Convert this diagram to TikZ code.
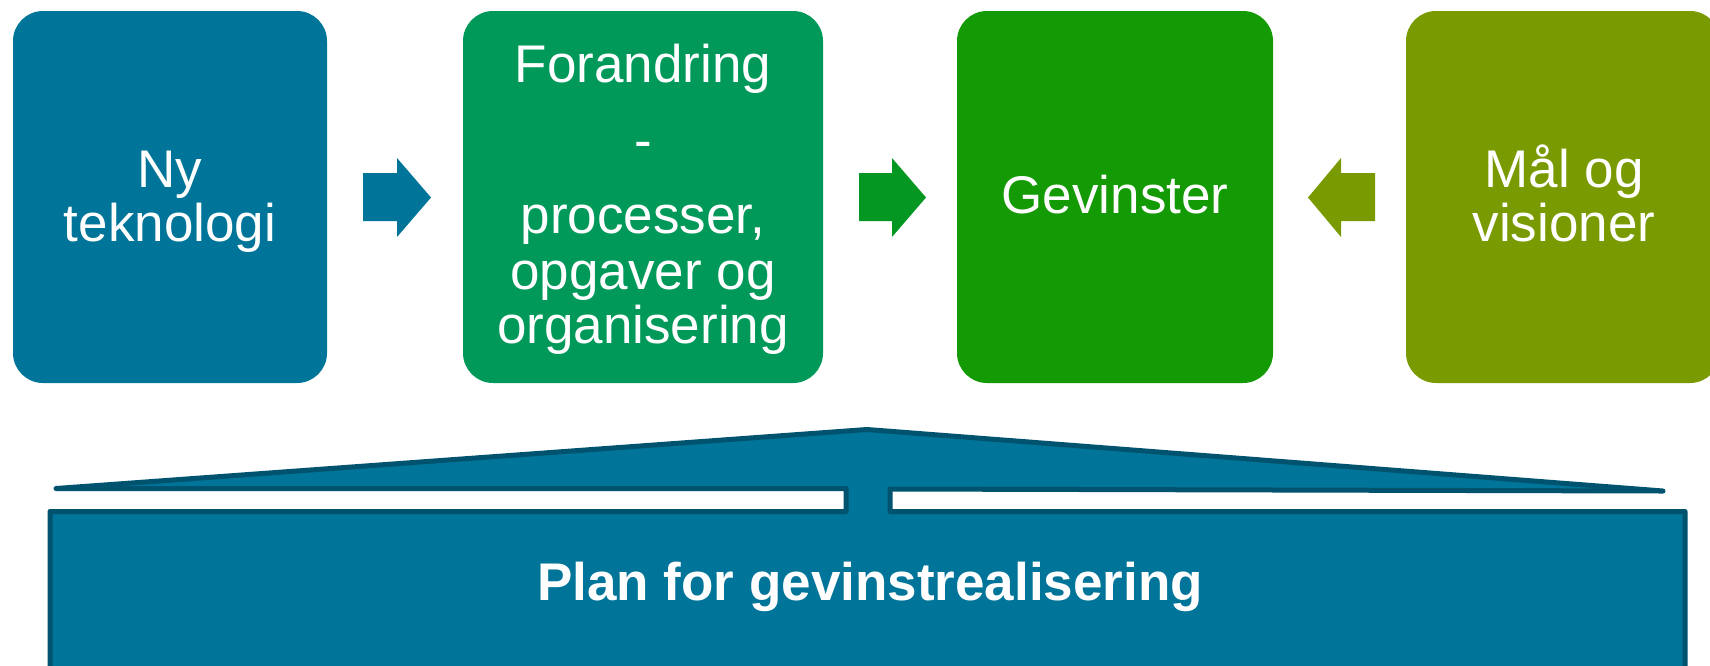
\documentclass[tikz,border=0pt]{standalone}
\usepackage{fontspec}
\setmainfont{Liberation Sans}
\definecolor{cA}{RGB}{0,117,153}
\definecolor{cB}{RGB}{0,153,89}
\definecolor{cC}{RGB}{19,154,4}
\definecolor{cD}{RGB}{122,154,1}
\definecolor{cArrB}{RGB}{4,152,35}
\definecolor{planfill}{RGB}{0,116,153}
\definecolor{planedge}{RGB}{0,83,110}
\begin{document}
\begin{tikzpicture}[x=1pt,y=-1pt,
  boxnode/.style={rounded corners=30pt, minimum width=314pt, minimum height=372pt, inner sep=0pt, draw=none},
  lbl/.style={text=white, font=\fontsize{53}{54}\selectfont, inner sep=0pt, anchor=base},
  blockarrow/.style={draw=none}]
\useasboundingbox (0,0) rectangle (1710,665);
% boxes
\node[boxnode, fill=cA] (b1) at (170,197) {};
\node[boxnode, fill=cB, minimum width=360pt] (b2) at (643,197) {};
\node[boxnode, fill=cC, minimum width=316pt] (b3) at (1115,197) {};
\node[boxnode, fill=cD] (b4) at (1563,197) {};
% texts
\node[lbl] (t1a) at (170,187) {Ny};
\node[lbl] (t1b) at (170,241) {teknologi};
\node[lbl] (t2a) at (643,82) {Forandring};
\node[lbl] (t2b) at (643,158) {-};
\node[lbl] (t2c) at (643,233) {processer,};
\node[lbl] (t2d) at (643,289) {opgaver og};
\node[lbl] (t2e) at (643,343) {organisering};
\node[lbl] (t3a) at (1115,213) {Gevinster};
\node[lbl] (t4a) at (1564,187) {Mål og};
\node[lbl] (t4b) at (1564,241) {visioner};
% block arrows
\fill[cA] (363,173) -- (397,173) -- (397,158) -- (431,197.5) -- (397,237) -- (397,221) -- (363,221) -- cycle;
\fill[cArrB] (859,173) -- (892,173) -- (892,158) -- (926,197.5) -- (892,237) -- (892,221) -- (859,221) -- cycle;
\fill[cD] (1375,173) -- (1341,173) -- (1341,158) -- (1308,197.5) -- (1341,237) -- (1341,221) -- (1375,221) -- cycle;
% plan shape
\draw[fill=planfill, draw=planedge, line width=5pt, line join=round, line cap=round]
  (56,488.5) -- (867,429.5) -- (1663,491) -- (890,489) -- (890,511.5) -- (1685,511.5)
  -- (1685,720) -- (50,720) -- (50,511.5) -- (846,511.5) -- (846,488.5) -- cycle;
\node[text=white, font=\fontsize{53}{54}\selectfont\bfseries, inner sep=0pt, anchor=base] (plan) at (870,600) {Plan for gevinstrealisering};
\end{tikzpicture}
\end{document}
